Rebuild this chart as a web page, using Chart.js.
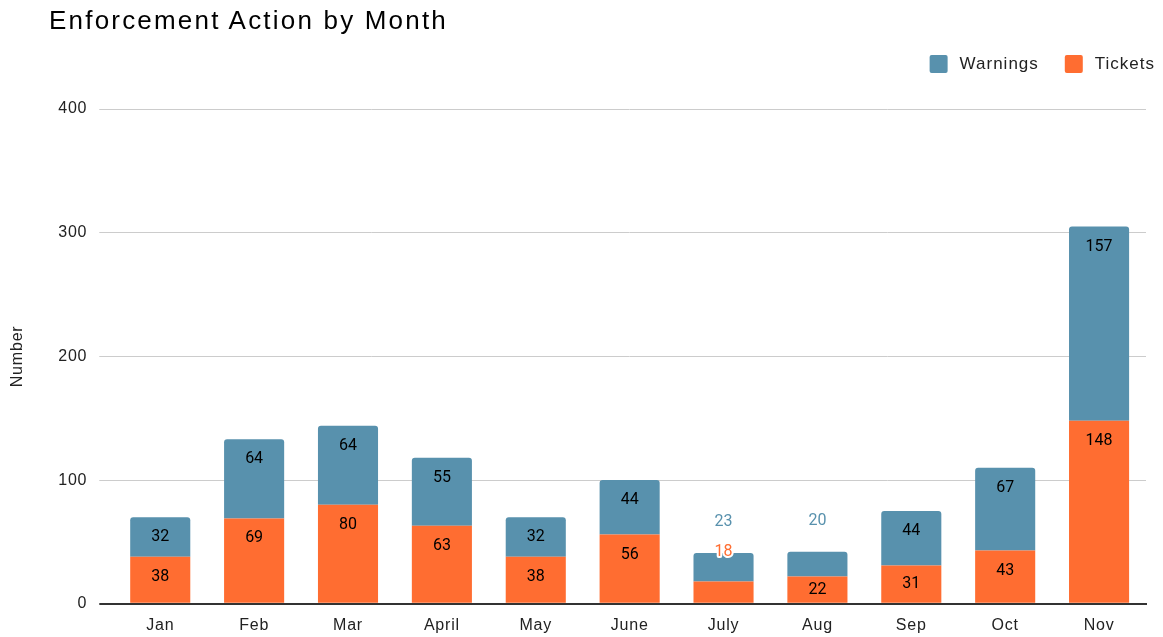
<!DOCTYPE html>
<html>
<head>
<meta charset="utf-8">
<script src="https://cdn.jsdelivr.net/npm/chart.js@4.4.1/dist/chart.umd.min.js"></script>
<style>
	html, body { margin: 0; padding: 0; background: #fff; }
	#wrap { position: relative; width: 1163px; height: 637px; overflow: hidden; }
	#title {
		position: absolute; left: 49px; top: 5px;
		font: 26px "Liberation Sans", Arial, sans-serif; color: #000;
		letter-spacing: 2.2px; white-space: nowrap;
	}
	canvas { display: block; }
</style>
</head>
<body>
<div id="wrap">
	<div id="title">Enforcement Action by Month</div>
	<canvas id="myChart" width="1163" height="637"></canvas>
</div>
<script>
//data
const months = ["Jan", "Feb", "Mar", "April", "May", "June", "July", "Aug", "Sep", "Oct", "Nov"];
const tickets = [38, 69, 80, 63, 38, 56, 18, 22, 31, 43, 148];
const warnings = [32, 64, 64, 55, 32, 44, 23, 20, 44, 67, 157];
const yTicks = [0, 100, 200, 300, 400];

const blue = "#5891AD";
const orange = "#FF6D31";
const textFont = "Liberation Sans";

//slightly wider text, like the original
const spacing = {
	id: "spacing",
	beforeUpdate(chart) {
		chart.ctx.letterSpacing = "0.8px";
	},
	beforeDraw(chart) {
		chart.ctx.letterSpacing = "0.8px";
	},
};

//bar labels: inside the segment if it fits, otherwise above the stack
const barLabels = {
	id: "barLabels",
	afterDatasetsDraw(chart) {
		const { ctx } = chart;
		const metaT = chart.getDatasetMeta(0);
		const metaW = chart.getDatasetMeta(1);
		ctx.save();
		ctx.letterSpacing = "0px";
		ctx.font = "16px Roboto";
		ctx.textAlign = "center";
		ctx.textBaseline = "middle";
		months.forEach((m, i) => {
			const t = metaT.data[i];
			const w = metaW.data[i];
			const stackTop = w.y;
			//tickets
			if (t.base - t.y >= 25) {
				ctx.fillStyle = "#000";
				ctx.fillText(tickets[i], t.x, Math.min(t.y + 20, (t.y + t.base) / 2));
			} else {
				ctx.lineWidth = 4;
				ctx.strokeStyle = "#fff";
				ctx.lineJoin = "round";
				ctx.strokeText(tickets[i], t.x, stackTop - 1);
				ctx.fillStyle = orange;
				ctx.fillText(tickets[i], t.x, stackTop - 1);
			}
			//warnings
			if (w.base - w.y >= 30) {
				ctx.fillStyle = "#000";
				ctx.fillText(warnings[i], w.x, Math.min(w.y + 20, (w.y + w.base) / 2));
			} else {
				ctx.fillStyle = blue;
				ctx.fillText(warnings[i], w.x, stackTop - 31);
			}
		});
		ctx.restore();
	},
};

//legend top right, Warnings first
const topLegend = {
	id: "topLegend",
	afterDraw(chart) {
		const { ctx } = chart;
		const items = chart.data.datasets.slice().reverse();
		ctx.save();
		ctx.letterSpacing = "1px";
		ctx.font = "17px " + textFont;
		ctx.textBaseline = "middle";
		ctx.textAlign = "left";
		const box = 18, gapText = 12, gapItem = 26;
		const widths = items.map((d) => box + gapText + ctx.measureText(d.label).width);
		let x = 1155 - widths.reduce((a, b) => a + b, 0) - gapItem * (items.length - 1);
		items.forEach((d, i) => {
			ctx.fillStyle = d.backgroundColor;
			ctx.beginPath();
			ctx.roundRect(x, 55, box, box, 2);
			ctx.fill();
			ctx.fillStyle = "#222";
			ctx.fillText(d.label, x + box + gapText, 64.5);
			x += widths[i] + gapItem;
		});
		ctx.restore();
	},
};

const data = {
	labels: months,
	datasets: [
		{
			label: "Tickets",
			data: tickets,
			backgroundColor: orange,
			borderWidth: 0,
		},
		{
			label: "Warnings",
			data: warnings,
			backgroundColor: blue,
			borderWidth: 0,
			borderRadius: { topLeft: 3, topRight: 3, bottomLeft: 0, bottomRight: 0 },
			borderSkipped: false,
		},
	],
};

const config = {
	type: "bar",
	data,
	options: {
		responsive: false,
		animation: false,
		layout: {
			padding: { left: 2, right: 17, top: 109, bottom: -10 },
		},
		datasets: {
			bar: {
				barPercentage: 0.64,
				categoryPercentage: 1,
			},
		},
		scales: {
			x: {
				stacked: true,
				grid: { display: false, drawTicks: false },
				border: { color: "#333", width: 2 },
				ticks: {
					color: "#222",
					font: { family: textFont, size: 16 },
					padding: 12,
				},
			},
			y: {
				stacked: true,
				min: 0,
				max: 400,
				afterBuildTicks: (axis) => {
					axis.ticks = yTicks.map((v) => ({ value: v }));
				},
				grid: {
					color: (c) => (c.tick && c.tick.value === 0 ? "#333" : "#ccc"),
					tickColor: (c) => (c.tick && c.tick.value === 0 ? "#333" : "#ccc"),
					lineWidth: (c) => (c.tick && c.tick.value === 0 ? 2 : 1),
					drawTicks: true,
					tickLength: 14,
				},
				border: { display: false },
				ticks: {
					color: "#222",
					font: { family: textFont, size: 16 },
					padding: 12,
				},
				title: {
					display: true,
					text: "Number",
					color: "#222",
					font: { family: textFont, size: 16 },
					padding: { top: 6, bottom: 19 },
				},
			},
		},
		plugins: {
			legend: { display: false },
			tooltip: { enabled: false },
		},
	},
	plugins: [spacing, barLabels, topLegend],
};

const myChart = new Chart(document.getElementById("myChart"), config);
</script>
</body>
</html>
